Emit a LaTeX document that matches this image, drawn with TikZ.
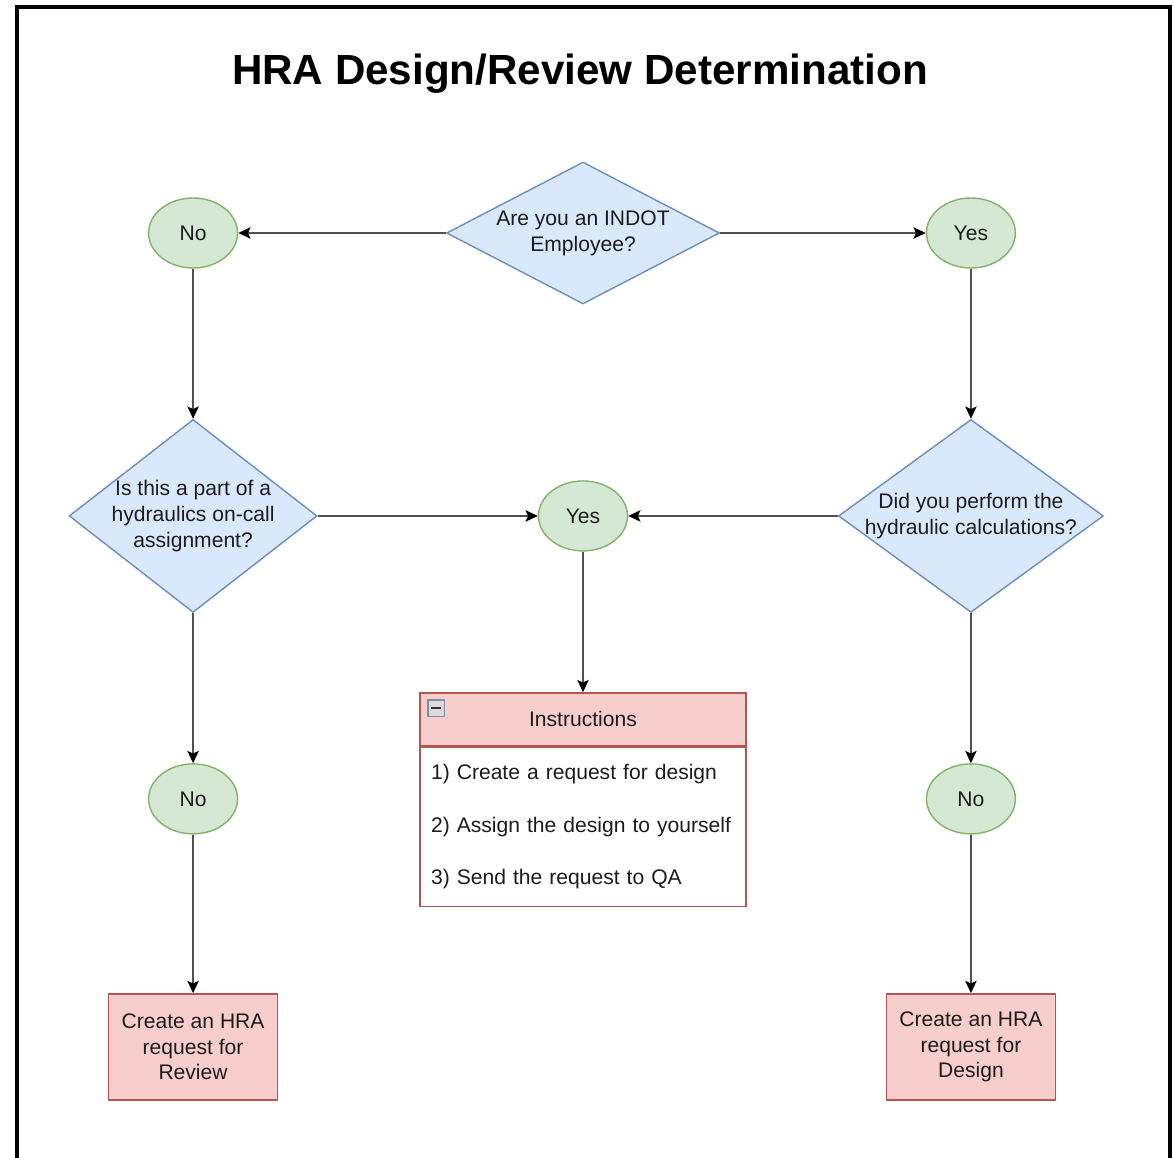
\documentclass[tikz,border=0pt]{standalone}
\usepackage{fontspec}
\setmainfont{Liberation Sans}
\usetikzlibrary{shapes.geometric,positioning,arrows.meta}

\definecolor{qfill}{HTML}{DAE8FC}
\definecolor{qline}{HTML}{6C8EBF}
\definecolor{afill}{HTML}{D5E8D4}
\definecolor{aline}{HTML}{82B366}
\definecolor{bfill}{HTML}{F8CECC}
\definecolor{bline}{HTML}{B85450}
\definecolor{ink}{HTML}{1C1C1C}
\definecolor{wire}{HTML}{505050}

\begin{document}
\begin{tikzpicture}[x=0.02cm, y=-0.02cm, font=\fontsize{12}{14.7}\selectfont, text=ink,
  decision/.style = {diamond, draw=qline, fill=qfill, line width=0.8pt, inner sep=0pt},
  main/.style = {draw=aline, fill=afill, ellipse, line width=0.8pt, minimum width=1.78cm, minimum height=1.4cm},
  action/.style = {draw=bline, fill=bfill, line width=0.8pt, minimum width=3.38cm, minimum height=2.12cm, align=center},
  ->/.style = {draw=wire, line width=0.9pt, -{Stealth[length=7pt, width=6.5pt, inset=1.5pt, fill=black, color=black]}}]
\useasboundingbox (0,0) rectangle (1174,1158);
\draw[line width=2.4pt] (17,1158) -- (17,7) -- (1170,7) -- (1170,1158);

\node[font=\fontsize{24}{28}\selectfont\bfseries, text=black] (title) at (580,74) {HRA Design/Review Determination};

\node[decision, minimum width=5.46cm, minimum height=2.84cm,
  label={[align=center]center:Are you an INDOT\\Employee?}] (1) at (583,233) {};
\node[main] (2) [left of=1, node distance=7.8cm] {No};
\node[main] (3) [right of=1, node distance=7.76cm] {Yes};
\node[decision, minimum width=4.96cm, minimum height=3.86cm,
  label={[align=center]center:Is this a part of a\\hydraulics on-call\\assignment?}] (4) [below of=2, node distance=5.66cm] {};
\node[main] (5) [below of=1, node distance=5.66cm] {Yes};
\node[decision, minimum width=5.3cm, minimum height=3.86cm,
  label={[align=center]center:Did you perform the\\hydraulic calculations?}] (6) [below of=3, node distance=5.66cm] {};
\node[main] (7) [below of=4, node distance=5.66cm] {No};
\node[main] (8) [below of=6, node distance=5.66cm] {No};
\node[action] (9) [below of=7, node distance=4.96cm] {Create an HRA\\request for\\Review};
\node[action] (10) [below of=8, node distance=4.96cm] {Create an HRA\\request for\\Design};

% instructions list
\node[draw=bline, fill=bfill, line width=0.8pt, minimum width=6.52cm, minimum height=1.06cm] (11) [below of=5, node distance=4.07cm] {Instructions};
\node[draw=bline, fill=white, line width=0.8pt, inner xsep=0.22cm, text width=6.08cm, minimum height=3.18cm, align=left,
  font=\fontsize{12}{30}\selectfont] (12) [below=0pt of 11] {1) Create a request for design\\2) Assign the design to yourself\\3) Send the request to QA};
\node[draw={rgb,255:red,127;green,142;blue,168}, fill={rgb,255:red,220;green,220;blue,222}, line width=0.8pt, minimum size=9.5pt, inner sep=0pt,
  path picture={\draw[line width=1.2pt, black!80] ([xshift=2pt]path picture bounding box.west) -- ([xshift=-2pt]path picture bounding box.east);}]
  (fold) [below right=4pt and 4.5pt of 11.north west] {};

\draw[->] (1) -- (2);
\draw[->] (1) -- (3);
\draw[->] (2) -- (4);
\draw[->] (3) -- (6);
\draw[->] (4) -- (5);
\draw[->] (6) -- (5);
\draw[->] (5) -- (11);
\draw[->] (4) -- (7);
\draw[->] (6) -- (8);
\draw[->] (7) -- (9);
\draw[->] (8) -- (10);
\end{tikzpicture}
\end{document}
